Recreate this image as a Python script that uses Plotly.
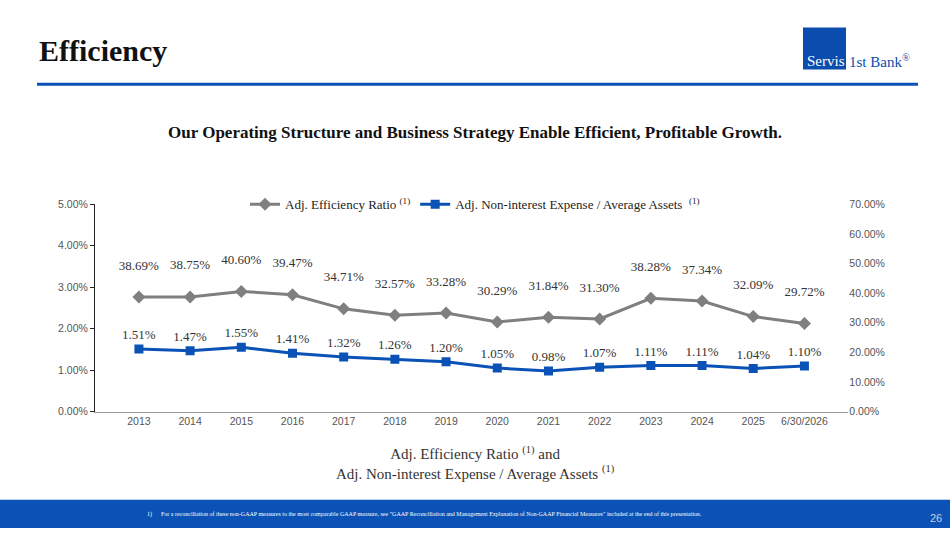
import plotly.graph_objects as go

categories = ["2013","2014","2015","2016","2017","2018","2019","2020","2021","2022","2023","2024","2025","6/30/2026"]
eff_ratio = [38.69,38.75,40.60,39.47,34.71,32.57,33.28,30.29,31.84,31.30,38.28,37.34,32.09,29.72]
nie_assets = [1.51,1.47,1.55,1.41,1.32,1.26,1.20,1.05,0.98,1.07,1.11,1.11,1.04,1.10]

F = "Liberation Serif"
blue = "#0A52B5"
gray = "#7F7F7F"

fig = go.Figure()
fig.add_trace(go.Scatter(x=categories, y=eff_ratio, yaxis="y2", mode="lines+markers+text",
    name="Adj. Efficiency Ratio <sup>(1)</sup>", line=dict(color=gray, width=3),
    marker=dict(symbol="diamond", size=10, color=gray),
    text=[f"{v:.2f}%<br> " for v in eff_ratio], textposition="top center",
    textfont=dict(family=F, size=13, color="#333")))
fig.add_trace(go.Scatter(x=categories, y=nie_assets, yaxis="y", mode="lines+markers+text",
    name="Adj. Non-interest Expense / Average Assets  <sup>(1)</sup>", line=dict(color=blue, width=3),
    marker=dict(symbol="square", size=9, color=blue),
    text=[f"{v:.2f}%" for v in nie_assets], textposition="top center",
    textfont=dict(family=F, size=13, color="#333")))

fig.update_layout(
    width=950, height=534, margin=dict(l=0, r=0, t=0, b=0),
    plot_bgcolor="white", paper_bgcolor="white",
    font=dict(family=F, color="#444"),
    xaxis=dict(domain=[0.1, 0.893], type="category", showline=True, linecolor="#999",
               ticks="", tickfont=dict(family="Liberation Sans", size=10.5, color="#555"), showgrid=False),
    yaxis=dict(domain=[0.223, 0.62], range=[0, 5], dtick=1, tickformat=".2f", ticksuffix="%",
               showgrid=False, showline=True, linecolor="#222", ticks="outside", ticklen=4, tickcolor="#222",
               tickfont=dict(family="Liberation Sans", size=10.5, color="#555"), zeroline=False),
    yaxis2=dict(overlaying="y", side="right", range=[0, 70], dtick=10, tickformat=".2f", ticksuffix="%",
                showgrid=False, showline=False, tickfont=dict(family="Liberation Sans", size=10.5, color="#555"),
                zeroline=False),
    legend=dict(orientation="h", x=0.5, xanchor="center", y=0.62, yref="paper", yanchor="middle",
                font=dict(family=F, size=13, color="#222"), bgcolor="rgba(0,0,0,0)"),
    showlegend=True,
)

shapes = [
    dict(type="line", xref="paper", yref="paper", x0=37/950, x1=918/950, y0=1-80/534, y1=1-80/534,
         line=dict(color=blue, width=3)),
    dict(type="rect", xref="paper", yref="paper", x0=0, x1=1, y0=0, y1=1-505/534,
         fillcolor=blue, line=dict(width=0)),
    dict(type="rect", xref="paper", yref="paper", x0=803/950, x1=846/950, y0=1-65/534, y1=1-22/534,
         fillcolor="#0A4DAE", line=dict(width=0)),
]
fig.update_layout(shapes=shapes)

ann = [
    dict(text="<b>Efficiency</b>", x=37/950, y=1-46/534, xanchor="left", yanchor="middle",
         font=dict(family=F, size=30, color="#111")),
    dict(text="<b>Our Operating Structure and Business Strategy Enable Efficient, Profitable Growth.</b>",
         x=0.5, y=1-129/534, xanchor="center", yanchor="middle", font=dict(family=F, size=17, color="#111")),
    dict(text="Adj. Efficiency Ratio <sup>(1)</sup> and<br>Adj. Non-interest Expense / Average Assets <sup>(1)</sup>",
         x=0.5, y=1-468/534, xanchor="center", yanchor="middle", font=dict(family=F, size=15, color="#333")),
    dict(text="Servis", x=805/950, y=1-56/534, xanchor="left", yanchor="middle",
         font=dict(family=F, size=15, color="white")),
    dict(text="1st Bank<sup>®</sup>", x=847/950, y=1-56/534, xanchor="left", yanchor="middle",
         font=dict(family=F, size=15, color="#0A4DAE")),
    dict(text="1)      For a reconciliation of these non-GAAP measures to the most comparable GAAP measure, see \"GAAP Reconciliation and Management Explanation of Non-GAAP Financial Measures\" included at the end of this presentation.",
         x=145/950, y=1-520/534, xanchor="left", yanchor="middle", font=dict(family=F, size=6, color="white")),
    dict(text="26", x=944/950, y=1-524/534, xanchor="right", yanchor="middle",
         font=dict(family="Liberation Sans", size=11, color="#ccd")),
]
for a in ann:
    a.update(xref="paper", yref="paper", showarrow=False)
fig.update_layout(annotations=ann)

fig.write_html("out.html", config={"displayModeBar": False, "responsive": False},
               post_script="document.body.style.margin='0';document.body.style.overflow='hidden';")
